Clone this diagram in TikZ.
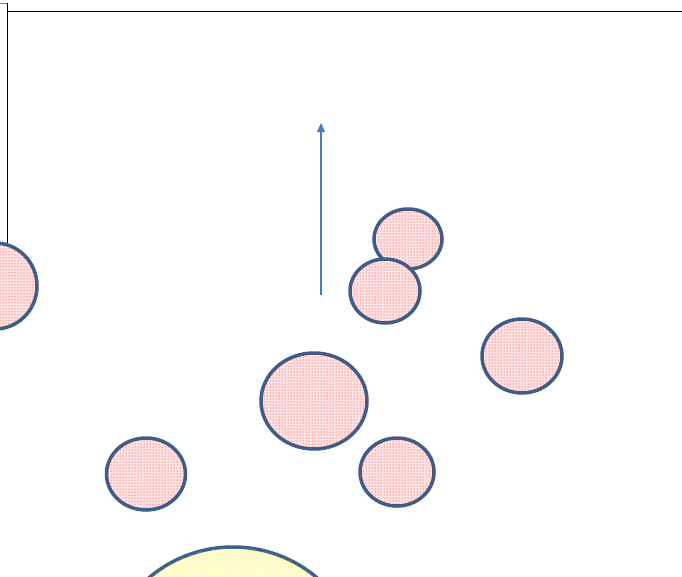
\documentclass[tikz,border=0pt]{standalone}
\usepackage{tikz}
\usetikzlibrary{arrows.meta,shapes.geometric,patterns}
\definecolor{rimblue}{HTML}{3A5F8B}
\definecolor{arrowblue}{HTML}{4A7EBB}
\tikzset{
  blob/.style={ellipse, draw=rimblue, line width=3.5pt, inner sep=0pt, fill=red!10,
    postaction={pattern=dots, pattern color=red}},
  sunblob/.style={ellipse, draw=rimblue, line width=3.5pt, inner sep=0pt, fill=yellow!15,
    postaction={pattern=dots, pattern color=yellow}},
  frame/.style={line width=1pt, draw=black},
  ar/.style={-{Triangle[length=9pt, width=8pt]}, line width=1.2pt, draw=arrowblue},
}
\begin{document}
\begin{tikzpicture}[x=1pt,y=-1pt]
  \useasboundingbox (0,0) rectangle (682,576);
  \clip (0,0) rectangle (682,576);
  % frame lines
  \draw[frame, draw=gray] (0,3) -- (7,3);
  \draw[frame] (7,3) -- (7,260);
  \draw[frame] (7,11) -- (682,11);
  % arrow
  \coordinate (foot) at (321,295);
  \coordinate (tip) at (321,123);
  \draw[ar] (foot) -- (tip);
  % blobs
  \node[blob, minimum width=84pt, minimum height=86pt] (left) at (-5,286) {};
  \node[blob, minimum width=68pt, minimum height=60pt] (upper) at (408,239) {};
  \node[blob, minimum width=70pt, minimum height=64pt] (lower) at (385,291) {};
  \node[blob, minimum width=80pt, minimum height=74pt] (east) at (522,356) {};
  \node[blob, minimum width=106pt, minimum height=96pt] (big) at (314,401) {};
  \node[blob, minimum width=79pt, minimum height=72pt] (west) at (146,474) {};
  \node[blob, minimum width=74pt, minimum height=68pt] (south) at (397,472) {};
  \node[sunblob, minimum width=260pt, minimum height=260pt] (sun) at (233,677) {};
\end{tikzpicture}
\end{document}
